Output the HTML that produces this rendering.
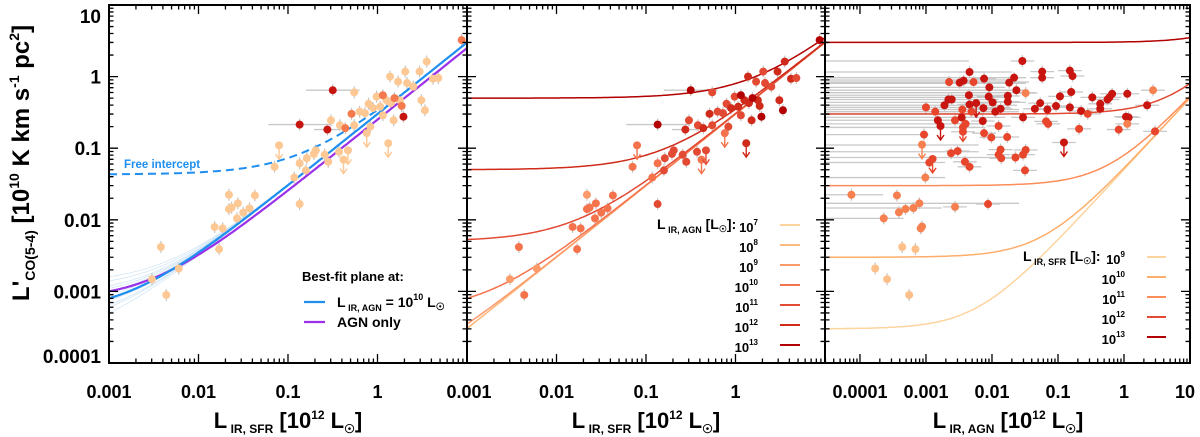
<!DOCTYPE html>
<html><head><meta charset="utf-8"><style>
html,body{margin:0;padding:0;background:#fff;}
svg{display:block;font-family:"Liberation Sans",sans-serif;}
</style></head><body>
<svg id="fig" width="1200" height="437" viewBox="0 0 1200 437" xmlns="http://www.w3.org/2000/svg">
<g id="layer-bars"></g>
<g id="layer-curves"></g>
<g id="layer-points"></g>
<g id="layer-axes"></g>
<g id="layer-text"></g>
</svg>
<script>
// ---- data (log10 values) ----
const galLogSfr = [-2.52,-2.42,-2.36,-2.22,-1.82,-1.73,-1.77,-1.66,-1.66,-1.63,-1.56,-1.57,-1.50,-1.43,-1.37,-1.15,-0.93,-0.87,-0.87,-0.80,-0.79,-0.71,-0.69,-0.55,-0.52,-0.59,-0.43,-0.42,-0.26,-0.26,-0.20,-0.14,-0.10,-0.08,-0.05,-0.01,0.03,0.06,0.10,0.14,0.15,0.18,0.23,0.25,0.31,0.33,0.40,0.47,0.49,0.53,0.55,0.62,0.68,-0.50,-0.87,-0.56,-0.29,-0.36,0.06,0.19,0.29,0.27,0.94,-1.10,-0.38,-0.33,-0.12,0.12];
const galLogCO = [-2.83,-2.38,-3.05,-2.68,-2.10,-2.12,-2.41,-1.65,-1.85,-1.83,-1.77,-1.98,-1.90,-1.84,-1.66,-1.26,-1.41,-1.78,-1.21,-1.31,-1.14,-1.08,-1.03,-1.19,-0.61,-1.09,-1.05,-0.68,-0.22,-0.68,-0.49,-0.51,-0.38,-0.70,-0.44,-0.28,-0.42,-0.54,-0.33,0.00,-0.37,-0.61,-0.07,-0.33,0.07,-0.09,-0.14,0.07,-0.33,-0.47,0.21,-0.03,-0.02,-0.19,-0.67,-0.74,-0.52,-0.72,-0.26,-0.30,-0.56,-0.41,0.51,-0.96,-1.16,-1.03,-0.79,-0.93];
const galClass1 = [0,0,0,0,0,0,0,0,0,0,0,0,0,0,0,0,0,0,0,0,0,0,0,0,0,0,0,0,0,0,0,0,0,0,0,0,0,0,0,0,0,0,0,0,0,0,0,0,0,0,0,0,0,2,2,2,1,1,1,1,2,1,1,0,0,0,0,0];
const galAgnLevel = [2,3,3,2,3,3,3,2,3,3,3,3,3,3,3,3,3,4,3,4,4,4,4,4,4,4,4,4,4,4,4,4,4,4,5,4,5,4,5,5,5,5,4,5,4,4,4,5,5,6,5,5,4,6,6,5,5,5,6,6,6,5,6,3,3,4,3,5];
const galUpperLim = [0,0,0,0,0,0,0,0,0,0,0,0,0,0,0,0,0,0,0,0,0,0,0,0,0,0,0,0,0,0,0,0,0,0,0,0,0,0,0,0,0,0,0,0,0,0,0,0,0,0,0,0,0,0,0,0,0,0,0,0,0,0,0,1,1,1,1,1];
const galXerrDex = [0,0,0,0,0,0,0,0,0,0,0,0,0,0,0,0,0,0,0,0,0,0,0,0,0,0,0,0,0,0,0,0,0,0,0,0,0,0,0,0,0,0,0,0,0,0,0,0,0,0,0,0,0,0.3,0.35,0.15,0,0,0,0,0,0,0,0,0,0,0,0];

const agnLogX = [-1.54,-2.34,-1.24,-0.82,-1.24,-0.78,-2.65,-2.49,-2.43,-2.28,-2.12,-1.74,-1.665,-2.04,-1.63,-1.49,-0.80,-2.35,-2.05,-1.76,-2.66,-2.61,-1.99,-1.76,-0.97,-0.48,-0.18,0.05,0.44,-1.27,-2.34,-2.24,-2.13,-1.87,-1.35,-1.16,-1.03,-0.82,-0.36,-0.25,-0.22,-3.00,-2.86,-2.72,-2.45,-2.31,-1.95,-0.65,-0.55,-0.36,0.35,-1.53,-2.82,-2.56,-2.46,-2.14,-1.18,-1.15,0.03,0.07,-2.78,-2.40,-2.44,-1.90,-0.68,-0.08,0.05,0.47,-3.03,-2.44,-2.12,-2.01,-1.77,-3.06,-1.87,-1.49,-2.62,-2.52,-1.90,-1.86,-1.644,-1.53,-2.90,-2.95,-2.41,-2.34,-1.50,-3.01,-0.91,-4.13,-3.44,-3.10,-2.06,-2.56,-3.19,-3.31,-3.41,-3.64,-3.06,-3.08,-3.36,-3.16,-3.77,-3.59,-3.255];
const agnLogCO = [0.218,0.064,0.069,0.083,-0.015,0.008,-0.076,-0.085,-0.057,-0.076,-0.029,-0.085,-0.015,-0.15,-0.19,-0.23,-0.215,-0.26,-0.28,-0.27,-0.32,-0.32,-0.36,-0.35,-0.276,-0.29,-0.24,-0.24,-0.19,-0.37,-0.39,-0.37,-0.44,-0.45,-0.45,-0.46,-0.41,-0.43,-0.38,-0.32,-0.29,-0.43,-0.49,-0.40,-0.46,-0.49,-0.49,-0.48,-0.52,-0.45,-0.40,-0.57,-0.61,-0.61,-0.57,-0.62,-0.625,-0.66,-0.56,-0.57,-0.69,-0.66,-0.71,-0.69,-0.73,-0.74,-0.66,-0.765,-0.81,-0.77,-0.79,-0.85,-0.844,-0.95,-1.02,-1.025,-1.07,-1.04,-1.09,-1.14,-1.13,-1.09,-1.15,-1.20,-1.19,-1.26,-1.31,-1.41,-0.92,-1.65,-1.66,-1.77,-1.78,-1.82,-1.835,-1.85,-1.895,-1.98,-2.095,-2.12,-2.38,-2.41,-2.68,-2.83,-3.05];
const agnColorLevel = [3,3,3,3,3,3,2,3,3,2,3,3,3,3,3,1,3,3,3,3,3,3,3,3,3,3,3,3,1,3,3,3,3,3,3,3,3,3,3,3,3,2,2,3,2,2,3,3,2,3,3,3,3,2,3,3,2,2,3,3,3,2,2,2,2,2,1,2,2,2,2,2,2,1,2,2,2,2,2,2,2,2,2,2,2,2,2,1,3,1,1,1,2,1,1,1,1,1,1,1,0,0,0,0,0];
const agnUpperLim = [0,0,0,0,0,0,0,0,0,0,0,0,0,0,0,0,0,0,0,0,0,0,0,0,0,0,0,0,0,0,0,1,0,0,0,0,0,0,0,0,0,0,0,0,0,0,0,0,0,0,0,0,0,0,0,0,0,0,0,0,1,0,1,0,0,0,0,0,0,0,0,0,0,1,0,0,0,0,0,0,0,0,1,0,0,0,0,0,1,0,0,0,0,0,0,0,0,0,0,0,0,0,0,0,0];
const agnBarLogCO = [0.218,0.064,-0.015,-0.048,-0.076,-0.094,-0.15,-0.19,-0.225,-0.26,-0.29,-0.32,-0.36,-0.40,-0.43,-0.46,-0.49,-0.52,-0.57,-0.61,-0.66,-0.71,-0.81,-0.955,-1.05,-1.13,-1.20,-1.41,-1.65,-1.77,-1.835,-1.98];
const agnBarLogRight = [-2.35,-1.70,-1.80,-1.77,-1.44,-1.49,-1.80,-1.59,-1.34,-1.77,-1.80,-1.90,-1.49,-1.62,-1.72,-1.59,-1.59,-2.15,-1.80,-2.51,-2.10,-2.10,-2.96,-2.20,-2.20,-1.90,-2.71,-2.71,-3.65,-1.59,-2.76,-3.34];

// model: L'CO = sfrCoef*L_SFR + agnCoef*L_AGN (10^10 K km/s pc^2, L in 10^12 Lsun)
const sfrCoef = 0.3, agnCoef = 0.05;
const agnLevelsLog = [-5,-4,-3,-2,-1,0,1];       // 10^7..10^13 Lsun
const sfrLevelsLog = [-3,-2,-1,0,1];             // 10^9..10^13 Lsun
const agnLegendExp = ["7","8","9","10","11","12","13"];
const sfrLegendExp = ["9","10","11","12","13"];
const purpleSlope = 0.25, purpleIntercept = 0.00075;
const freeIntercept = 0.043;
const drawIntercepts = [0.0002,0.0003,0.00035,0.00045,0.0006,0.0007,0.0008,0.0009,0.0011,0.0013];

const xTickLabels1 = ["0.001","0.01","0.1","1"];
const xTickLabels3 = ["0.0001","0.001","0.01","0.1","1","10"];
const yTickLabels = ["0.0001","0.001","0.01","0.1","1","10"];

// ---- scales ----
const P=[{x0:109,x1:467,lo:-3,hi:1},{x0:467,x1:825,lo:-3,hi:1},{x0:825,x1:1190,lo:-4.53,hi:1}];
const YT=5,YB=363,YLO=-4,YHI=1;
function sx(p,l){return P[p].x0+(l-P[p].lo)/(P[p].hi-P[p].lo)*(P[p].x1-P[p].x0);}
function sy(l){return YT+(YHI-l)/(YHI-YLO)*(YB-YT);}
const NS="http://www.w3.org/2000/svg";
function mk(parent,tag,attrs){const e=document.createElementNS(NS,tag);for(const k in attrs)e.setAttribute(k,attrs[k]);document.getElementById(parent).appendChild(e);return e;}
const agnCols=['#fdd49e','#fdbb84','#fc9a6a','#f4734c','#e34a33','#cf2a1a','#b30000'];
const sfrCols=['#fdd49e','#fdae6b','#fc8d59','#e34a33','#b30000'];
const p1Cols=['#fdc893','#f47a4e','#c8150f'];
const p3Cols=['#fdc08a','#f6804f','#e8462c','#c8150f'];

const defs=document.createElementNS(NS,'defs');document.getElementById('fig').prepend(defs);
P.forEach((p,i)=>{const c=document.createElementNS(NS,'clipPath');c.setAttribute('id','clip'+i);const r=document.createElementNS(NS,'rect');r.setAttribute('x',p.x0);r.setAttribute('y',YT);r.setAttribute('width',p.x1-p.x0);r.setAttribute('height',YB-YT);c.appendChild(r);defs.appendChild(c);});

function curve(p,fn,stroke,w,extra,name,lmax){
  let d='';const hi=lmax===undefined?P[p].hi:lmax;
  for(let i=0;i<=160;i++){const lx=P[p].lo+(hi-P[p].lo)*i/160;const v=fn(Math.pow(10,lx));d+=(i?'L':'M')+sx(p,lx).toFixed(1)+','+sy(Math.log10(v)).toFixed(1);}
  const e=mk('layer-curves','path',Object.assign({d:d,fill:'none',stroke:stroke,'stroke-width':w,'clip-path':'url(#clip'+p+')'},extra||{}));
  
  
  return e;
}
drawIntercepts.forEach(c=>{curve(0,x=>sfrCoef*x+c,'#9cc7ea',0.8,{opacity:0.45},'posterior-draw-line');});
curve(0,x=>purpleSlope*x+purpleIntercept,'#9b30e8',2.2,{},'agn-only-fit-line');
curve(0,x=>sfrCoef*x+agnCoef*0.01,'#1e8ff0',2.2,{},'best-fit-line');
curve(0,x=>sfrCoef*x+freeIntercept,'#1e8ff0',2,{'stroke-dasharray':'8,5'},'free-intercept-line',0.05);
agnLevelsLog.forEach((a,i)=>{curve(1,x=>sfrCoef*x+agnCoef*Math.pow(10,a),agnCols[i],1.5,{},'agn-level-curve');});
sfrLevelsLog.forEach((s,i)=>{curve(2,x=>sfrCoef*Math.pow(10,s)+agnCoef*x,sfrCols[i],1.5,{},'sfr-level-curve');});

function pt(p,lx,ly,col,lim,name){
  const x=sx(p,lx),y=sy(ly);
  if(!lim){const b=mk('layer-bars','line',{x1:x,x2:x,y1:y-6,y2:y+6,stroke:'#c4c4c4','stroke-width':1.2});
  
  }
  else{const a=mk('layer-points','path',{d:`M${x},${y}L${x},${y+14}M${x-3.5},${y+9}L${x},${y+14}L${x+3.5},${y+9}`,fill:'none',stroke:col,'stroke-width':1.4});
  
  }
  const c=mk('layer-points','circle',{cx:x,cy:y,r:4,fill:col});
  
  
}
function hbar(p,l1,l2,ly){
  const b=mk('layer-bars','line',{x1:sx(p,l1),x2:sx(p,l2),y1:sy(ly),y2:sy(ly),stroke:'#c8c8c8','stroke-width':1.3,'clip-path':'url(#clip'+p+')'});
  
  
}
galLogSfr.forEach((lx,i)=>{
  if(galXerrDex[i]){hbar(0,lx-galXerrDex[i],lx+galXerrDex[i],galLogCO[i]);hbar(1,lx-galXerrDex[i],lx+galXerrDex[i],galLogCO[i]);}
  pt(0,lx,galLogCO[i],p1Cols[galClass1[i]],galUpperLim[i],'galaxy-point-sfr');
  pt(1,lx,galLogCO[i],agnCols[galAgnLevel[i]],galUpperLim[i],'galaxy-point-agn-colored');
});
agnBarLogCO.forEach((ly,i)=>{hbar(2,P[2].lo,agnBarLogRight[i],ly);});
agnLogX.forEach((lx,i)=>{
  if(lx>-2.6)hbar(2,lx-0.18,lx+0.18,agnLogCO[i]);
  pt(2,lx,agnLogCO[i],p3Cols[agnColorLevel[i]],agnUpperLim[i],'galaxy-point-agn');
});

P.forEach((p,pi)=>{
  const r=mk('layer-axes','rect',{x:p.x0,y:YT,width:p.x1-p.x0,height:YB-YT,fill:'none',stroke:'#000','stroke-width':2});
  
  
  let d='';
  for(let e=Math.floor(p.lo);e<=p.hi;e++){for(let k=1;k<10;k++){const l=e+Math.log10(k);if(l<p.lo-1e-6||l>p.hi+1e-6)continue;const x=sx(pi,l),L=k==1?9:4.5;d+=`M${x},${YB}v${-L}M${x},${YT}v${L}`;}}
  for(let e=YLO;e<=YHI;e++){for(let k=1;k<10;k++){const l=e+Math.log10(k);if(l>YHI+1e-6)continue;const y=sy(l),L=k==1?9:4.5;d+=`M${p.x0},${y}h${L}M${p.x1},${y}h${-L}`;}}
  const t=mk('layer-axes','path',{d:d,stroke:'#000','stroke-width':1.3,fill:'none'});
  
  
});
function txt(x,y,s,size,anchor,name,extra){
  const e=mk('layer-text','text',Object.assign({x:x,y:y,'font-size':size,'font-weight':'bold','text-anchor':anchor||'middle',fill:'#000'},extra||{}));
  e.innerHTML=s;
  
  
  return e;
}
xTickLabels1.forEach((s,i)=>{txt(sx(0,-3+i),398,s,18,'middle','x-tick-label');});
xTickLabels1.forEach((s,i)=>{if(i>0)txt(sx(1,-3+i),398,s,18,'middle','x-tick-label');});
txt(sx(1,-3)+2,398,"0.001",18,'middle','x-tick-label');
xTickLabels3.forEach((s,i)=>{txt(Math.min(sx(2,-4+i),1185),398,s,18,'middle','x-tick-label');});
yTickLabels.forEach((s,i)=>{const y=Math.max(16,Math.min(356,sy(-4+i)));txt(101,y+7,s,19,'end','y-tick-label');});

const sub='font-size="12" dy="5"', subEnd='dy="-5"';
txt(288,428,`L<tspan ${sub}> IR, SFR</tspan><tspan ${subEnd}> [10</tspan><tspan font-size="12" dy="-9">12</tspan><tspan dy="9"> L</tspan><tspan font-size="12" dy="5">☉</tspan><tspan dy="-5">]</tspan>`,22,'middle','x-axis-title-sfr');
txt(646,428,`L<tspan ${sub}> IR, SFR</tspan><tspan ${subEnd}> [10</tspan><tspan font-size="12" dy="-9">12</tspan><tspan dy="9"> L</tspan><tspan font-size="12" dy="5">☉</tspan><tspan dy="-5">]</tspan>`,22,'middle','x-axis-title-sfr-panel2');
txt(1008,428,`L<tspan ${sub}> IR, AGN</tspan><tspan ${subEnd}> [10</tspan><tspan font-size="12" dy="-9">12</tspan><tspan dy="9"> L</tspan><tspan font-size="12" dy="5">☉</tspan><tspan dy="-5">]</tspan>`,22,'middle','x-axis-title-agn');
txt(0,0,`L'<tspan font-size="14" dy="6">CO(5-4)</tspan><tspan dy="-6"> [10</tspan><tspan font-size="14" dy="-10">10</tspan><tspan dy="10"> K km s</tspan><tspan font-size="14" dy="-10">-1</tspan><tspan dy="10"> pc</tspan><tspan font-size="14" dy="-10">2</tspan><tspan dy="10">]</tspan>`,24,'middle','y-axis-title',{transform:'translate(29,163) rotate(-90)'});

txt(124,168,'Free intercept',11.5,'start','free-intercept-label',{fill:'#1e8ff0'});
txt(302,281,'Best-fit plane at:',13,'start','legend-title');
let l1=mk('layer-text','line',{x1:304,x2:325,y1:302,y2:302,stroke:'#1e8ff0','stroke-width':2.2});


txt(337,307,`L<tspan font-size="9" dy="4"> IR, AGN</tspan><tspan dy="-4"> = 10</tspan><tspan font-size="9" dy="-7">10</tspan><tspan dy="7"> L</tspan><tspan font-size="10" dy="3">☉</tspan>`,14,'start','legend-entry-best-fit');
let l2=mk('layer-text','line',{x1:304,x2:325,y1:322,y2:322,stroke:'#9b30e8','stroke-width':2.2});


txt(337,327,'AGN only',14,'start','legend-entry-agn-only');

txt(657,229,`L<tspan font-size="9" dy="4"> IR, AGN</tspan><tspan dy="-4"> [L</tspan><tspan font-size="9" dy="3">☉</tspan><tspan dy="-3">]:</tspan>`,14,'start','legend-title-agn');
agnLegendExp.forEach((e,i)=>{const y=225+i*20;
  txt(758,y+7,`10<tspan font-size="8" dy="-7">${e}</tspan>`,13,'end','legend-label-agn');
  const l=mk('layer-text','line',{x1:780,x2:800,y1:y,y2:y,stroke:agnCols[i],'stroke-width':2});
  
  
});
txt(1023,261,`L<tspan font-size="9" dy="4"> IR, SFR</tspan><tspan dy="-4"> [L</tspan><tspan font-size="9" dy="3">☉</tspan><tspan dy="-3">]:</tspan>`,14,'start','legend-title-sfr');
sfrLegendExp.forEach((e,i)=>{const y=257+i*20;
  txt(1125,y+7,`10<tspan font-size="8" dy="-7">${e}</tspan>`,13,'end','legend-label-sfr');
  const l=mk('layer-text','line',{x1:1147,x2:1166,y1:y,y2:y,stroke:sfrCols[i],'stroke-width':2});
  
  
});
</script>
</body></html>
